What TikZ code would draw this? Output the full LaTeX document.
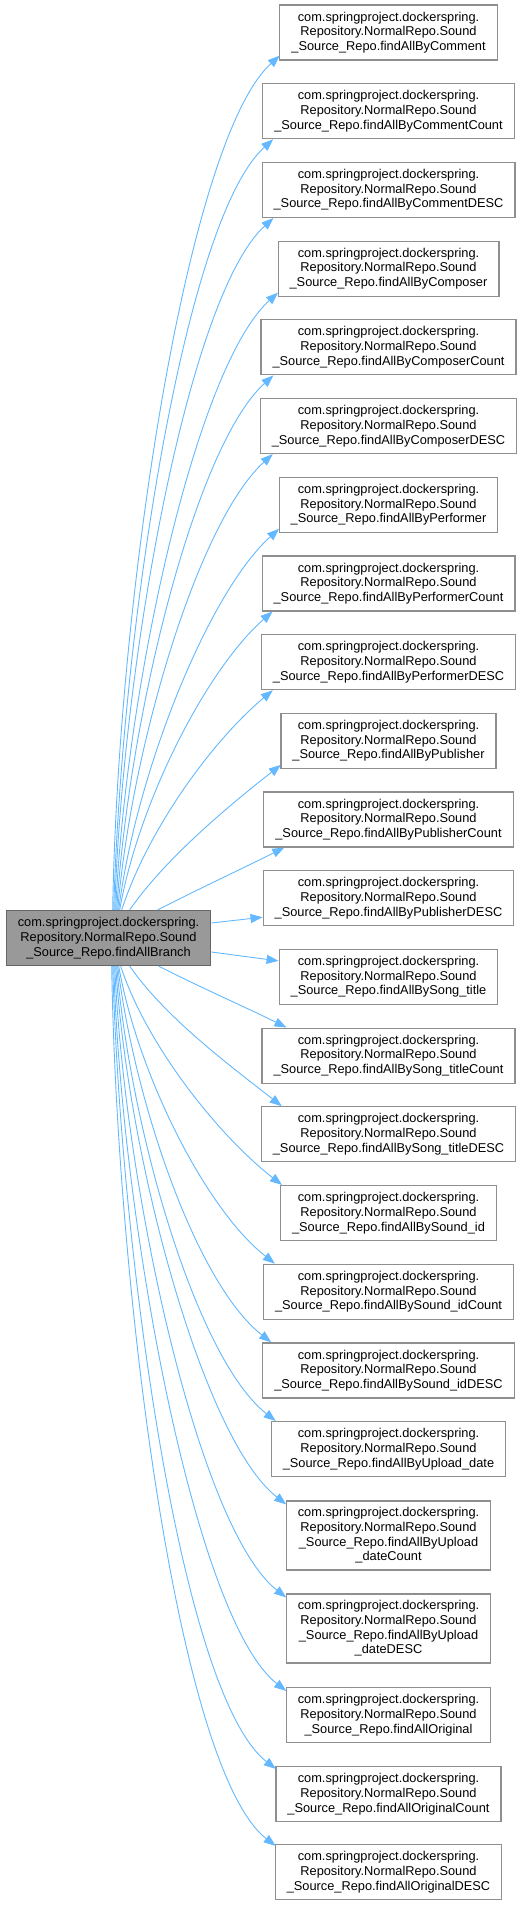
\documentclass[tikz,border=0pt]{standalone}
\usepackage{fontspec}
\setmainfont{Liberation Sans}
\usetikzlibrary{arrows.meta}
\definecolor{edgec}{HTML}{63B8FF}
\definecolor{boxc}{HTML}{8F8F8F}
\definecolor{mainfill}{HTML}{999999}
\definecolor{mainborder}{HTML}{666666}
\tikzset{
  fbox/.style={draw=boxc, line width=1.2pt, fill=white, align=center,
    font=\fontsize{12.8}{14.7}\selectfont, inner xsep=11.5pt, inner ysep=0pt,
    minimum height=55pt},
  fbox4/.style={fbox, minimum height=69pt},
  mainbox/.style={fbox, draw=mainborder, fill=mainfill},
  edge/.style={draw=edgec, line width=0.9pt, -{Triangle[length=12pt,width=9pt]}}
}
\newcommand{\pre}{com.springproject.dockerspring.\\Repository.NormalRepo.Sound\\\_Source\_Repo.findAll}
\begin{document}
\begin{tikzpicture}[x=1pt,y=-1pt]
\useasboundingbox (0,0) rectangle (523,1905);
\node[mainbox] (main) at (108.5,938) {\pre Branch};
\node[fbox] (n0) at (388.5,32.5) {\pre ByComment};
\node[fbox] (n1) at (388.5,111.2) {\pre ByCommentCount};
\node[fbox] (n2) at (388.5,189.9) {\pre ByCommentDESC};
\node[fbox] (n3) at (388.5,268.6) {\pre ByComposer};
\node[fbox] (n4) at (388.5,347.3) {\pre ByComposerCount};
\node[fbox] (n5) at (388.5,426.0) {\pre ByComposerDESC};
\node[fbox] (n6) at (388.5,504.7) {\pre ByPerformer};
\node[fbox] (n7) at (388.5,583.4) {\pre ByPerformerCount};
\node[fbox] (n8) at (388.5,662.1) {\pre ByPerformerDESC};
\node[fbox] (n9) at (388.5,740.8) {\pre ByPublisher};
\node[fbox] (n10) at (388.5,819.5) {\pre ByPublisherCount};
\node[fbox] (n11) at (388.5,898.2) {\pre ByPublisherDESC};
\node[fbox] (n12) at (388.5,976.9) {\pre BySong\_title};
\node[fbox] (n13) at (388.5,1055.6) {\pre BySong\_titleCount};
\node[fbox] (n14) at (388.5,1134.3) {\pre BySong\_titleDESC};
\node[fbox] (n15) at (388.5,1213.0) {\pre BySound\_id};
\node[fbox] (n16) at (388.5,1291.7) {\pre BySound\_idCount};
\node[fbox] (n17) at (388.5,1370.4) {\pre BySound\_idDESC};
\node[fbox] (n18) at (388.5,1449.1) {\pre ByUpload\_date};
\node[fbox4] (n19) at (388.5,1535.5) {\pre ByUpload\\\_dateCount};
\node[fbox4] (n20) at (388.5,1628.5) {\pre ByUpload\\\_dateDESC};
\node[fbox] (n21) at (388.5,1715) {\pre Original};
\node[fbox] (n22) at (388.5,1794) {\pre OriginalCount};
\node[fbox] (n23) at (388.5,1872) {\pre OriginalDESC};
% upper edges
\draw[edge] ([xshift=107pt]main.north west) .. controls +(5,-311) and +(-93,84) .. ([xshift=0.5pt,yshift=5pt]n0.south west);
\draw[edge] ([xshift=108pt]main.north west) .. controls +(8,-280) and +(-89,80) .. ([xshift=11pt]n1.south west);
\draw[edge] ([xshift=109pt]main.north west) .. controls +(8,-250) and +(-85,77) .. ([xshift=12pt]n2.south west);
\draw[edge] ([xshift=110pt]main.north west) .. controls +(10,-222) and +(-82,74) .. ([xshift=0.5pt,yshift=4pt]n3.south west);
\draw[edge] ([xshift=111pt]main.north west) .. controls +(12,-193) and +(-78,70) .. ([xshift=13pt]n4.south west);
\draw[edge] ([xshift=112pt]main.north west) .. controls +(14,-165) and +(-74,67) .. ([xshift=13pt]n5.south west);
\draw[edge] ([xshift=113pt]main.north west) .. controls +(17,-136) and +(-71,64) .. ([xshift=0.5pt,yshift=4pt]n6.south west);
\draw[edge] ([xshift=114pt]main.north west) .. controls +(19,-108) and +(-66,58) .. ([xshift=11pt]n7.south west);
\draw[edge] ([xshift=116pt]main.north west) .. controls +(26,-80) and +(-61,51) .. ([xshift=12pt]n8.south west);
\draw[edge] ([xshift=124pt]main.north west) .. controls +(36,-52) and +(-51,40) .. ([xshift=0.5pt,yshift=4pt]n9.south west);
\draw[edge] ([xshift=152pt]main.north west) .. controls +(45,-23) and +(-40,20) .. ([xshift=21pt]n10.south west);
% straight edges
\draw[edge] ([yshift=15pt]main.east) -- ([yshift=-19pt]n11.west);
\draw[edge] ([yshift=-14pt]main.east) -- ([yshift=16pt]n12.west);
% lower edges
\draw[edge] ([xshift=153pt]main.south west) .. controls +(45,23) and +(-40,-20) .. ([xshift=25pt]n13.north west);
\draw[edge] ([xshift=124pt]main.south west) .. controls +(36,52) and +(-51,-40) .. ([xshift=21pt]n14.north west);
\draw[edge] ([xshift=115pt]main.south west) .. controls +(26,80) and +(-62,-48) .. ([xshift=2pt]n15.north west);
\draw[edge] ([xshift=113pt]main.south west) .. controls +(19,108) and +(-69,-54) .. ([xshift=12pt]n16.north west);
\draw[edge] ([xshift=112pt]main.south west) .. controls +(17,136) and +(-75,-59) .. ([xshift=9pt]n17.north west);
\draw[edge] ([xshift=111pt]main.south west) .. controls +(14,165) and +(-79,-62) .. ([xshift=5pt]n18.north west);
\draw[edge] ([xshift=110pt]main.south west) .. controls +(12,193) and +(-83,-65) .. ([xshift=0.5pt,yshift=-4pt]n19.north west);
\draw[edge] ([xshift=109pt]main.south west) .. controls +(10,226) and +(-87,-68) .. ([xshift=0.5pt,yshift=-4pt]n20.north west);
\draw[edge] ([xshift=108pt]main.south west) .. controls +(8,260) and +(-91,-71) .. ([xshift=0.5pt,yshift=-4pt]n21.north west);
\draw[edge] ([xshift=107pt]main.south west) .. controls +(8,289) and +(-95,-74) .. ([xshift=0.5pt,yshift=-3pt]n22.north west);
\draw[edge] ([xshift=106pt]main.south west) .. controls +(5,317) and +(-99,-77) .. ([xshift=1pt,yshift=-2pt]n23.north west);
\end{tikzpicture}
\end{document}
